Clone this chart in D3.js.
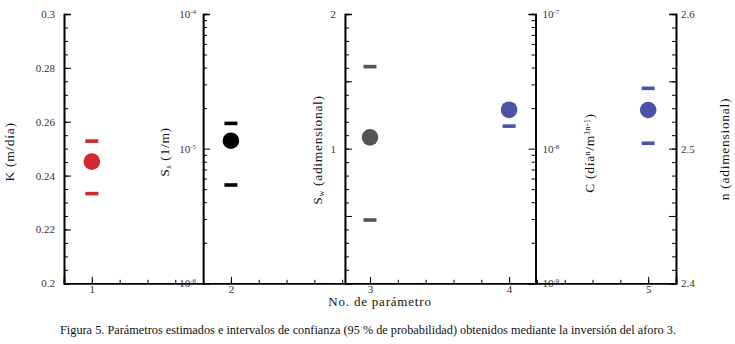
<!DOCTYPE html>
<html>
<head>
<meta charset="utf-8">
<script src="https://cdn.jsdelivr.net/npm/d3@7"></script>
<style>
  body { margin: 0; background: #fff; }
</style>
</head>
<body>
<div id="chart-container"></div>
<script>
// =====================
// Data
// =====================
const PARAM_IDS = [1, 2, 3, 4, 5];
const ESTIMATES = [0.2452, 1.146e-5, 1.084, 1.94e-8, 2.5287];
const LOWER = [0.2333, 5.37e-6, 0.47, 1.47e-8, 2.504];
const UPPER = [0.2528, 1.54e-5, 1.609, 2.1e-8, 2.5448];
const COLORS = ["#d2282e", "#000000", "#555555", "#4b53a6", "#4b53a6"];

const X_TICKS = [1, 2, 3, 4, 5];
const CAPTION = "Figura 5. Parámetros estimados e intervalos de confianza (95 % de probabilidad) obtenidos mediante la inversión del aforo 3.";
const X_LABEL = "No. de parámetro";

const FONT = "'Liberation Serif', 'Times New Roman', Times, 'DejaVu Serif', serif";

// =====================
// SVG setup
// =====================
const svgWidth = 735, svgHeight = 344;
const plot = { left: 64, right: 676, top: 14, bottom: 283.3 };

const svg = d3.select("#chart-container").append("svg")
  .attr("width", svgWidth)
  .attr("height", svgHeight)
  .style("font-family", FONT);

const x = d3.scaleLinear().domain([0.8, 5.2]).range([plot.left, plot.right]);

// one y scale per parameter
const yScales = [
  d3.scaleLinear().domain([0.2, 0.3]).range([plot.bottom, plot.top]),
  d3.scaleLog().domain([1e-6, 1e-4]).range([plot.bottom, plot.top]),
  d3.scaleLinear().domain([0, 2]).range([plot.bottom, plot.top]),
  d3.scaleLog().domain([1e-9, 1e-7]).range([plot.bottom, plot.top]),
  d3.scaleLinear().domain([2.4, 2.6]).range([plot.bottom, plot.top])
];

// where each vertical axis sits (in x units)
const axisAt = [0.8, 1.8, 2.82, 4.19, 5.2];

const logMinor = (lo, hi) => {
  const out = [];
  for (let e = lo; e < hi; e++) for (let m = 2; m <= 9; m++) out.push(m * Math.pow(10, e));
  return out;
};
const steps = (a, b, s) => d3.range(Math.round((b - a) / s) + 1).map(i => +(a + i * s).toFixed(4));

const axisSpec = [
  { side: "left", major: steps(0.2, 0.3, 0.02), minor: steps(0.2, 0.3, 0.005), fmt: d => String(+d.toFixed(2)), pad: 9 },
  { side: "left", major: [1e-6, 1e-5, 1e-4], minor: logMinor(-6, -4), exp: true, pad: 7 },
  { side: "left", major: [0.5, 1, 1.5, 2], minor: steps(0, 2, 0.1), fmt: d => Number.isInteger(d) ? String(d) : "", pad: 9 },
  { side: "right", major: [1e-9, 1e-8, 1e-7], minor: logMinor(-9, -7), exp: true, pad: 7 },
  { side: "right", major: steps(2.4, 2.6, 0.05), minor: steps(2.4, 2.6, 0.01), fmt: d => (Math.round(d * 100) % 10 === 0) ? String(+d.toFixed(1)) : "", pad: 5 }
];

function styleAxis(g) {
  g.attr("font-family", null).style("font-family", FONT);
  g.select(".domain").attr("stroke", "#000").attr("stroke-width", 1.6);
  g.selectAll(".tick line").attr("stroke", "#000").attr("stroke-width", 1);
  g.selectAll(".tick text").attr("font-size", 11).attr("fill", "#333");
}

axisSpec.forEach((spec, i) => {
  const y = yScales[i];
  const make = spec.side === "left" ? d3.axisLeft : d3.axisRight;
  const gx = x(axisAt[i]);

  svg.append("g")
    .attr("transform", `translate(${gx},0)`)
    .call(make(y).tickValues(spec.minor).tickSize(-4).tickFormat(""))
    .call(styleAxis);

  const g = svg.append("g")
    .attr("transform", `translate(${gx},0)`)
    .call(make(y).tickValues(spec.major).tickSize(-7).tickPadding(spec.pad)
      .tickFormat(spec.exp ? (d => "10") : spec.fmt))
    .call(styleAxis);

  if (spec.exp) {
    g.selectAll(".tick text").each(function (d) {
      d3.select(this).append("tspan")
        .attr("dy", "-0.55em")
        .attr("font-size", 7)
        .text(Math.round(Math.log10(d)));
    });
  }
});

// x axis
svg.append("g")
  .attr("transform", `translate(0,${plot.bottom})`)
  .call(d3.axisBottom(x).tickValues(steps(0.8, 5.2, 0.2)).tickSize(-3.5).tickFormat(""))
  .call(styleAxis);

svg.append("g")
  .attr("transform", `translate(0,${plot.bottom})`)
  .call(d3.axisBottom(x).tickValues(X_TICKS).tickSize(-6.5).tickPadding(2).tickFormat(d3.format("d")))
  .call(styleAxis);

// =====================
// Marks
// =====================
const rows = PARAM_IDS.map((id, i) => ({
  id, est: ESTIMATES[i], lo: LOWER[i], hi: UPPER[i], color: COLORS[i], y: yScales[i]
}));

const barW = 13, barH = 3.6;
rows.forEach(d => {
  [d.lo, d.hi].forEach(v => {
    svg.append("rect")
      .attr("x", x(d.id) - barW / 2)
      .attr("y", d.y(v) - barH / 2)
      .attr("width", barW)
      .attr("height", barH)
      .attr("fill", d.color);
  });
});

svg.selectAll("circle.est")
  .data(rows)
  .join("circle")
  .attr("class", "est")
  .attr("cx", d => x(d.id))
  .attr("cy", d => d.y(d.est))
  .attr("r", 8.3)
  .attr("fill", d => d.color);

// =====================
// Axis titles
// =====================
function vTitle(cx, cy, parts) {
  const t = svg.append("text")
    .attr("transform", `translate(${cx},${cy}) rotate(-90)`)
    .attr("text-anchor", "middle")
    .attr("font-size", 13.5)
    .attr("letter-spacing", 0.7)
    .attr("fill", "#111");
  parts.forEach(p => {
    const s = t.append("tspan").text(p.t);
    if (p.sub) s.attr("font-size", 8).attr("baseline-shift", "-25%");
    if (p.sup) s.attr("font-size", 7.5).attr("baseline-shift", "45%");
  });
}

vTitle(14, 152, [{ t: "K (m/día)" }]);
vTitle(169, 152, [{ t: "S" }, { t: "s", sub: true }, { t: " (1/m)" }]);
vTitle(322, 150, [{ t: "S" }, { t: "w", sub: true }, { t: " (adimensional)" }]);
vTitle(594, 153, [{ t: "C (día" }, { t: "n", sup: true }, { t: "/m" }, { t: "3n-1", sup: true }, { t: ")" }]);
vTitle(729, 149, [{ t: "n (adimensional)" }]);

svg.append("text")
  .attr("x", 380)
  .attr("y", 306)
  .attr("text-anchor", "middle")
  .attr("font-size", 13)
  .attr("letter-spacing", 0.8)
  .attr("fill", "#111")
  .text(X_LABEL);

svg.append("text")
  .attr("x", 60)
  .attr("y", 334)
  .attr("font-size", 12.5)
  .attr("textLength", 616)
  .attr("lengthAdjust", "spacingAndGlyphs")
  .attr("fill", "#111")
  .text(CAPTION);
</script>
</body>
</html>
